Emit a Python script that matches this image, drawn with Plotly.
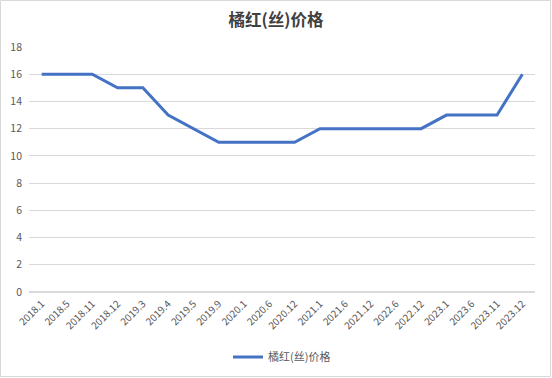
import plotly.graph_objects as go

categories = ["2018.1", "2018.5", "2018.11", "2018.12", "2019.3", "2019.4", "2019.5", "2019.9",
              "2020.1", "2020.6", "2020.12", "2021.1", "2021.6", "2021.12", "2022.6", "2022.12",
              "2023.1", "2023.6", "2023.11", "2023.12"]
prices = [16, 16, 16, 15, 15, 13, 12, 11, 11, 11, 11, 12, 12, 12, 12, 12, 13, 13, 13, 16]
series_name = "橘红(丝)价格"
title_text = "橘红(丝)价格"
y_ticks = [0, 2, 4, 6, 8, 10, 12, 14, 16, 18]

W, H = 552, 378
L, R, T, B = 29, 17, 47, 86
pw, ph = W - L - R, H - T - B

font = "Noto Sans CJK SC, Microsoft YaHei, sans-serif"

fig = go.Figure()
fig.add_trace(go.Scatter(
    x=categories, y=prices, mode="lines", name=series_name,
    line=dict(color="#4472C4", width=3),
))

fig.update_layout(
    width=W, height=H,
    margin=dict(l=L, r=R, t=T, b=B, autoexpand=False),
    paper_bgcolor="white", plot_bgcolor="white",
    title=dict(text="<b>" + title_text + "</b>", x=0.5, xanchor="center",
               y=1 - 20 / H, yanchor="middle",
               font=dict(family=font, size=16.5, color="#404040")),
    font=dict(family=font, color="#595959"),
    showlegend=True,
    legend=dict(orientation="h", x=0.5, xanchor="center",
                y=-(357 - (H - B)) / ph, yanchor="middle", itemwidth=30,
                font=dict(family=font, size=11, color="#595959")),
    xaxis=dict(type="category", tickangle=-45, showgrid=False, showline=False,
               automargin=False, ticks="", ticklabelstandoff=3,
               tickfont=dict(family=font, size=10, color="#595959"),
               range=[-0.5, len(categories) - 0.5]),
    yaxis=dict(range=[0, 18], tickvals=y_ticks, showgrid=True, gridcolor="#D9D9D9",
               gridwidth=1, zeroline=True, zerolinecolor="#D9D9D9", showline=False,
               automargin=False, ticks="", ticklabelstandoff=6,
               tickfont=dict(family=font, size=10.5, color="#595959")),
    shapes=[dict(type="rect", xref="paper", yref="paper",
                 x0=(0.5 - L) / pw, x1=(W - 1.5 - L) / pw,
                 y0=-(B - 1.5) / ph, y1=1 + (T - 0.5) / ph,
                 line=dict(color="#D9D9D9", width=1), fillcolor="rgba(0,0,0,0)", layer="below")],
)

fig.write_html("out.html", config={"displayModeBar": False},
               post_script="document.body.style.margin='0';document.body.style.overflow='hidden';")
